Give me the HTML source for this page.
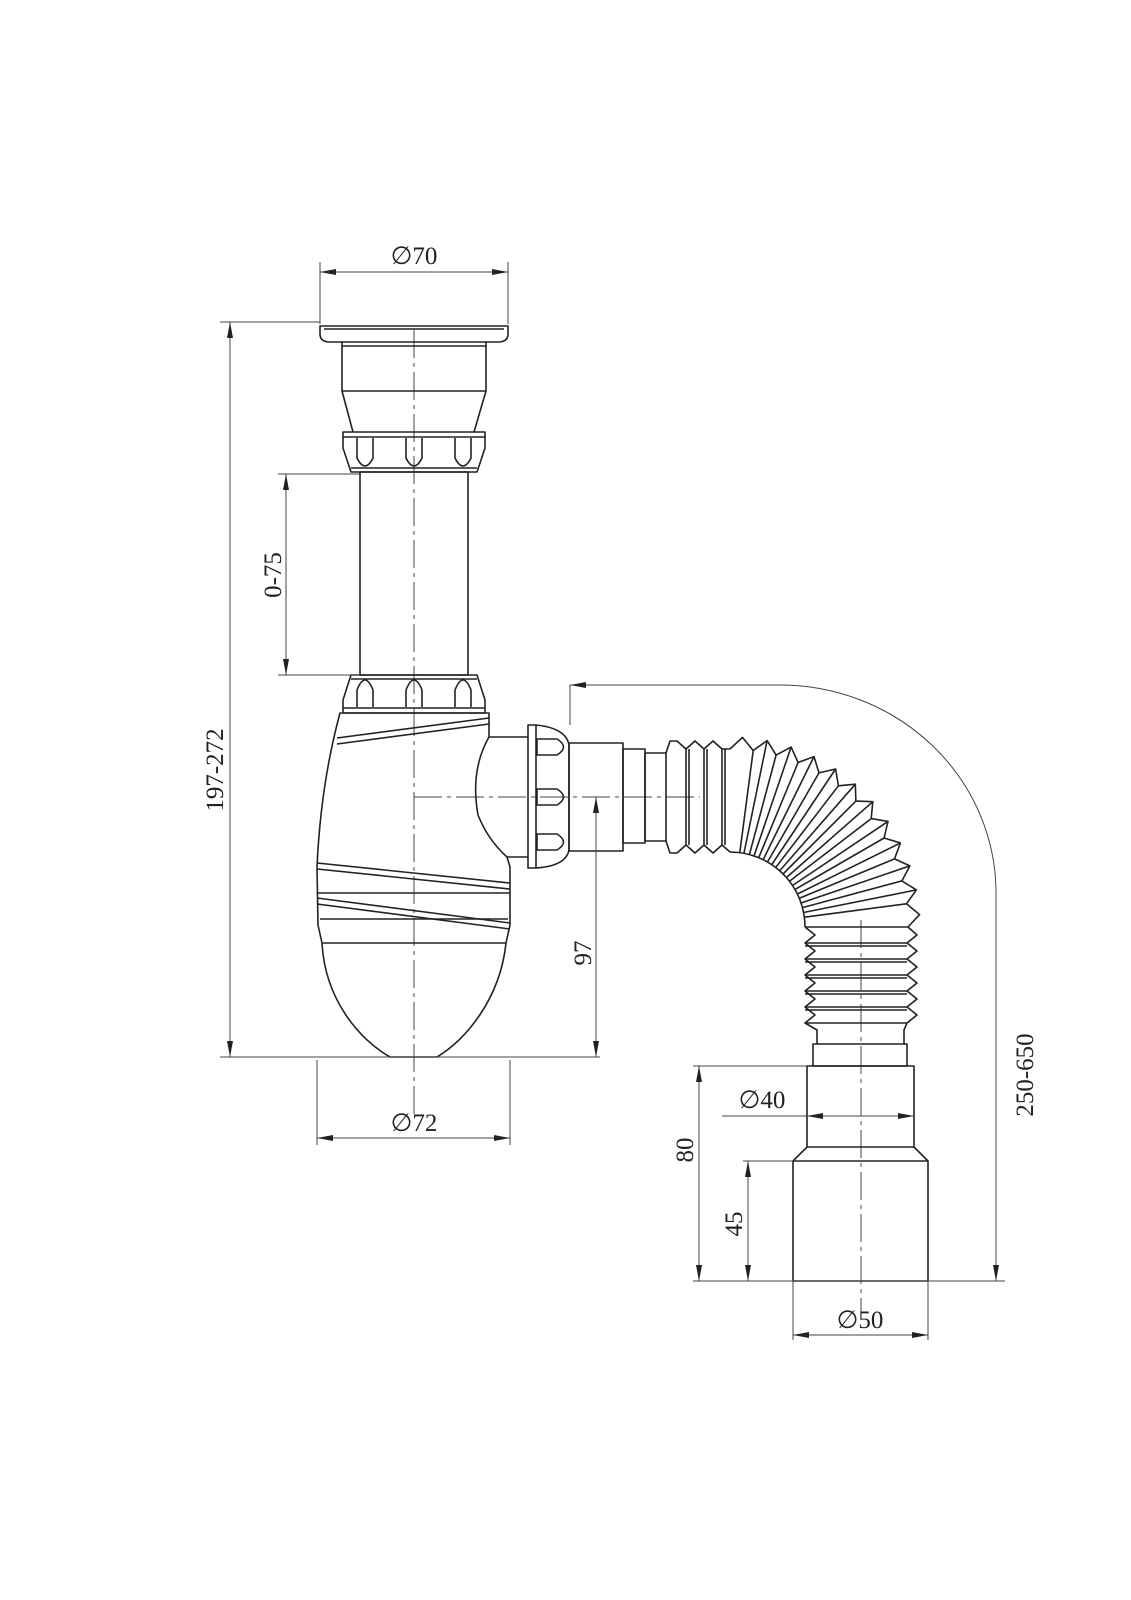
<!DOCTYPE html>
<html><head><meta charset="utf-8"><style>
html,body{margin:0;padding:0;background:#fff}
svg{display:block}
text{font-family:"Liberation Serif","DejaVu Serif",serif;font-size:25px;fill:#222}
.o{fill:none;stroke:#222;stroke-width:1.6;stroke-linejoin:round}
.d{fill:none;stroke:#444;stroke-width:1}
.c{fill:none;stroke:#444;stroke-width:1;stroke-dasharray:28 5 4 5}
.a{fill:#222}
</style></head><body>
<svg width="1131" height="1600" viewBox="0 0 1131 1600" xmlns="http://www.w3.org/2000/svg">
<line class="c" x1="414" y1="330" x2="414" y2="1115"/>
<line class="c" x1="414" y1="797" x2="700" y2="797"/>
<line class="c" x1="861" y1="920" x2="861" y2="1320"/>

<path class="o" d="M320,326 L508,326 L508,334 Q508,342 498,342 L330,342 Q320,342 320,334 Z"/>
<line class="o" x1="324" y1="329" x2="504" y2="329"/>
<path class="o" d="M342,342 L342,391 L353,432 M486,342 L486,391 L474,432 M342,346 L486,346 M342,391 L486,391"/>
<path class="o" d="M343,432 L485,432 L485,448 L477,472 L351,472 L343,448 Z M343,437 L485,437 M351,468 L477,468"/>
<path class="o" d="M357,438 L357,458 Q365,474 373,458 L373,438 M406,438 L406,458 Q414,474 422,458 L422,438 M455,438 L455,458 Q463,474 471,458 L471,438"/>
<rect class="o" x="360" y="472" width="108" height="203"/>
<path class="o" d="M351,675 L477,675 L485,700 L485,713 L343,713 L343,700 Z M343,708 L485,708 M351,679 L477,679"/>
<path class="o" d="M357,707 L357,690 Q365,670 373,690 L373,707 M406,707 L406,690 Q414,670 422,690 L422,707 M455,707 L455,690 Q463,670 471,690 L471,707"/>
<path class="o" d="M340,713 L489,713 L489,737 Q470,770 478,815 Q488,840 507,857 L510,867 L510,925 L506,943 C500,1000 465,1040 437,1057 L390,1057 C360,1040 325,1000 322,943 L318,925 L317,867 C320,800 330,750 340,713 Z"/>
<path class="o" d="M337,738 L489,718 M337,744 L489,724"/>
<path class="o" d="M317,863 L510,883 M317,869 L510,889"/>
<path class="o" d="M317,893 L510,893 M317,898 L510,923 M317,904 L510,929"/>
<line class="o" x1="320" y1="919" x2="508" y2="919"/>
<line class="o" x1="322" y1="943" x2="506" y2="943"/>
<path class="o" d="M489,737 L528,737 M507,857 L528,857"/>
<path class="o" d="M528,725 L536,725 Q566,728 569,745 L569,850 Q566,866 536,868 L528,868 Z M536,725 L536,868"/>
<path class="o" d="M537,739 L557,739 Q570,747 557,755 L537,755 Z M537,789 L557,789 Q570,797 557,805 L537,805 Z M537,834 L557,834 Q570,842 557,850 L537,850 Z"/>
<rect class="o" x="569" y="743" width="54" height="108"/>
<rect class="o" x="623" y="749" width="22" height="94"/>
<rect class="o" x="645" y="753" width="21" height="88"/>
<path class="o" d="M666,753 L670,741 L677,741 L686,749 L695,741 L704,749 L713,741 L722,749 L730,749"/>
<path class="o" d="M666,841 L670,853 L677,853 L686,845 L695,853 L704,845 L713,853 L722,845 L730,852"/>
<path class="o" d="M686,749 L686,845 M689,749 L689,845 M704,749 L704,845 M707,749 L707,845 M722,749 L722,845 M725,749 L725,845"/>
<path class="o" d="M730,749 L742.4,737.4 L753.2,750.5 L767.1,740.6 L776.1,755.1 L791.1,747.1 L798.1,762.5 L814,756.6 L819,772.9 L835.6,769 L838.4,785.8 L855.3,784.2 L855.9,801.1 L872.8,801.7 L871.2,818.6 L888,821.4 L884.1,838 L900.4,843 L894.5,858.9 L909.9,865.9 L901.9,880.9 L916.4,889.9 L906.5,903.8 L919.6,914.6 L908,927"/>
<path class="o" d="M730,852 A75,75 0 0 1 805,927"/>
<path class="o" d="M753.2,750.5 L739.8,852.6 M776.1,755.1 L749.4,854.6 M798.1,762.5 L758.7,857.7 M819,772.9 L767.5,862 M838.4,785.8 L775.7,867.5 M855.9,801.1 L783,874 M871.2,818.6 L789.5,881.3 M884.1,838 L795,889.5 M894.5,858.9 L799.3,898.3 M901.9,880.9 L802.4,907.6 M906.5,903.8 L804.4,917.2 M908,927 L805,927"/>
<path class="o" d="M767.1,740.6 L744,853 M791.1,747.1 L754,856 M814,756.6 L763,860 M835.6,769 L771.5,865 M855.3,784.2 L779.5,871 M872.8,801.7 L786.5,877.5 M888,821.4 L792.5,885.5 M900.4,843 L797.5,894 M909.9,865.9 L801,903 M916.4,889.9 L803.5,912.5"/>
<path class="o" d="M805,927 L815,935 L805,943 L815,951 L805,959 L815,967 L805,975 L815,983 L805,991 L815,999 L805,1007 L815,1015 L805,1023 L817,1030 L817,1044"/>
<path class="o" d="M908,927 L917,935 L907,943 L917,951 L907,959 L917,967 L907,975 L917,983 L907,991 L917,999 L907,1007 L917,1015 L907,1023 L904,1030 L904,1044"/>
<path class="o" d="M805,943 L907,943 M805,946 L907,946 M805,959 L907,959 M805,962 L907,962 M805,975 L907,975 M805,978 L907,978 M805,991 L907,991 M805,994 L907,994 M805,1007 L907,1007 M805,1010 L907,1010 M805,1023 L907,1023"/>
<rect class="o" x="813" y="1044" width="94" height="22"/>
<rect class="o" x="807" y="1066" width="107" height="81"/>
<path class="o" d="M807,1147 L793,1161 L928,1161 L914,1147 M793,1161 L793,1281 L928,1281 L928,1161"/>

<g class="d">
<line x1="320" y1="262" x2="320" y2="324"/><line x1="508" y1="262" x2="508" y2="324"/>
<line x1="320" y1="272" x2="508" y2="272"/>
<line x1="220" y1="322" x2="320" y2="322"/>
<line x1="230" y1="322" x2="230" y2="1057"/>
<line x1="220" y1="1057" x2="600" y2="1057"/>
<line x1="278" y1="474" x2="360" y2="474"/><line x1="278" y1="675" x2="360" y2="675"/>
<line x1="286" y1="474" x2="286" y2="675"/>
<line x1="596" y1="797" x2="596" y2="1057"/>
<line x1="317" y1="1060" x2="317" y2="1145"/><line x1="510" y1="1060" x2="510" y2="1145"/>
<line x1="317" y1="1138" x2="510" y2="1138"/>
<line x1="570" y1="685" x2="570" y2="725"/>
<path d="M570,685 L780,685 A216,208 0 0 1 996,893 L996,1281"/>
<line x1="693" y1="1066" x2="807" y2="1066"/>
<line x1="699" y1="1066" x2="699" y2="1281"/>
<line x1="722" y1="1116" x2="914" y2="1116"/>
<line x1="743" y1="1161" x2="793" y2="1161"/>
<line x1="748" y1="1161" x2="748" y2="1281"/>
<line x1="693" y1="1281" x2="1005" y2="1281"/>
<line x1="793" y1="1281" x2="793" y2="1340"/><line x1="928" y1="1281" x2="928" y2="1340"/>
<line x1="793" y1="1335" x2="928" y2="1335"/>
</g>
<g class="a">
<path d="M320,272 l16,-3 v6z"/><path d="M508,272 l-16,-3 v6z"/>
<path d="M230,322 l-3,16 h6z"/><path d="M230,1057 l-3,-16 h6z"/>
<path d="M286,474 l-3,16 h6z"/><path d="M286,675 l-3,-16 h6z"/>
<path d="M596,797 l-3,16 h6z"/><path d="M596,1057 l-3,-16 h6z"/>
<path d="M317,1138 l16,-3 v6z"/><path d="M510,1138 l-16,-3 v6z"/>
<path d="M570,685 l16,-3 v6z"/>
<path d="M996,1281 l-3,-16 h6z"/>
<path d="M699,1066 l-3,16 h6z"/><path d="M699,1281 l-3,-16 h6z"/>
<path d="M807,1116 l16,-3 v6z"/><path d="M914,1116 l-16,-3 v6z"/>
<path d="M748,1161 l-3,16 h6z"/><path d="M748,1281 l-3,-16 h6z"/>
<path d="M793,1335 l16,-3 v6z"/><path d="M928,1335 l-16,-3 v6z"/>
</g>
<text x="414" y="264" text-anchor="middle">∅70</text>
<text x="414" y="1131" text-anchor="middle">∅72</text>
<text x="762" y="1108" text-anchor="middle">∅40</text>
<text x="860" y="1328" text-anchor="middle">∅50</text>
<text transform="translate(223,770) rotate(-90)" text-anchor="middle">197-272</text>
<text transform="translate(281,575) rotate(-90)" text-anchor="middle">0-75</text>
<text transform="translate(591,953) rotate(-90)" text-anchor="middle">97</text>
<text transform="translate(693,1150) rotate(-90)" text-anchor="middle">80</text>
<text transform="translate(742,1224) rotate(-90)" text-anchor="middle">45</text>
<text transform="translate(1033,1075) rotate(-90)" text-anchor="middle">250-650</text>
</svg>
</body></html>
